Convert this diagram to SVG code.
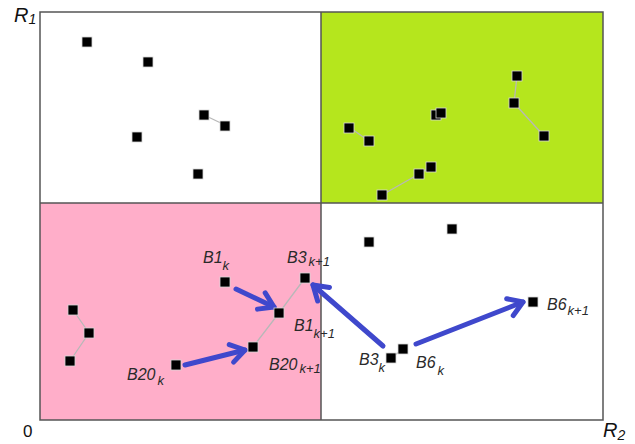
<svg xmlns="http://www.w3.org/2000/svg" width="635" height="444" viewBox="0 0 635 444">
<style>
.sq{fill:#000;stroke:#d8d8d8;stroke-width:0.8}
.lk{stroke:#b8b8b8;stroke-width:1.3;fill:none}
.ar{stroke:#3f48cc;stroke-width:5;fill:none;stroke-linecap:round}
.lb{font-family:"Liberation Sans",Arial,sans-serif;font-style:italic;fill:#2a2a2a;font-size:16px}
.sb{font-size:13px}
.ax{font-family:"Liberation Sans",Arial,sans-serif;fill:#111}
</style>
<defs>
<marker id="ah" markerUnits="userSpaceOnUse" orient="auto" refX="0" refY="0" markerWidth="30" markerHeight="30" viewBox="-20 -15 30 30" overflow="visible">
<path d="M-14,-9 L0,0 L-14,9" stroke="#3f48cc" stroke-width="5" fill="none" stroke-linecap="round" stroke-linejoin="round"/>
</marker>
</defs>
<g id="quadrants">
<rect x="40" y="12" width="281" height="191" fill="#ffffff"/>
<rect x="321" y="12" width="282" height="191" fill="#b5e61d"/>
<rect x="40" y="203" width="281" height="217" fill="#ffaec9"/>
<rect x="321" y="203" width="282" height="217" fill="#ffffff"/>
<g stroke="#555" stroke-width="1.5" fill="none">
<rect x="40" y="12" width="563" height="408"/>
<line x1="40" y1="203" x2="603" y2="203"/>
<line x1="321" y1="12" x2="321" y2="420"/>
</g>
</g>
<g id="axes">
<text class="ax" x="14" y="22" style="font-size:20px;font-style:italic">R<tspan style="font-size:14px" dy="2">1</tspan></text>
<text class="ax" x="23" y="437" style="font-size:17px">0</text>
<text class="ax" x="603" y="437" style="font-size:20px;font-style:italic">R<tspan style="font-size:14px" dy="3">2</tspan></text>
</g>
<g id="links">
<path class="lk" d="M204,115 L225,125"/>
<path class="lk" d="M349,127 L369,141"/>
<path class="lk" d="M436,115 L441,113"/>
<path class="lk" d="M382,195 L419,174 L431,167"/>
<path class="lk" d="M517,76 L514,103 L544,136"/>
<path class="lk" d="M73,310 L89,333 L70,361"/>
<path class="lk" d="M253,347 L279,313 L305,278"/>
<path class="lk" d="M391,358 L403,349"/>
</g>
<g id="connectors">
<line class="ar" x1="236" y1="289" x2="274" y2="307" marker-end="url(#ah)"/>
<line class="ar" x1="185" y1="365" x2="245" y2="350" marker-end="url(#ah)"/>
<line class="ar" x1="383" y1="346" x2="313" y2="285" marker-end="url(#ah)"/>
<line class="ar" x1="416" y1="344" x2="523" y2="302" marker-end="url(#ah)"/>
</g>
<g id="nodes">
<g id="n1"><rect class="sq" x="82" y="37" width="10" height="10"/></g>
<g id="n2"><rect class="sq" x="143" y="57" width="10" height="10"/></g>
<g id="n3"><rect class="sq" x="199" y="110" width="10" height="10"/></g>
<g id="n4"><rect class="sq" x="220" y="121" width="10" height="10"/></g>
<g id="n5"><rect class="sq" x="132" y="132" width="10" height="10"/></g>
<g id="n6"><rect class="sq" x="193" y="169" width="10" height="10"/></g>
<g id="n7"><rect class="sq" x="344" y="123" width="10" height="10"/></g>
<g id="n8"><rect class="sq" x="364" y="136" width="10" height="10"/></g>
<g id="n9"><rect class="sq" x="431" y="110" width="10" height="10"/></g>
<g id="n10"><rect class="sq" x="436" y="108" width="10" height="10"/></g>
<g id="n11"><rect class="sq" x="377" y="190" width="10" height="10"/></g>
<g id="n12"><rect class="sq" x="414" y="169" width="10" height="10"/></g>
<g id="n13"><rect class="sq" x="426" y="162" width="10" height="10"/></g>
<g id="n14"><rect class="sq" x="512" y="71" width="10" height="10"/></g>
<g id="n15"><rect class="sq" x="509" y="98" width="10" height="10"/></g>
<g id="n16"><rect class="sq" x="539" y="131" width="10" height="10"/></g>
<g id="n17"><rect class="sq" x="68" y="305" width="10" height="10"/></g>
<g id="n18"><rect class="sq" x="84" y="328" width="10" height="10"/></g>
<g id="n19"><rect class="sq" x="65" y="356" width="10" height="10"/></g>
<g id="B1k"><rect class="sq" x="220" y="277" width="10" height="10"/><text class="lb" x="203" y="263">B1<tspan class="sb" dy="7">k</tspan></text></g>
<g id="B3k1"><rect class="sq" x="300" y="273" width="10" height="10"/><text class="lb" x="287" y="263">B3<tspan class="sb" dx="2" dy="3">k+1</tspan></text></g>
<g id="B1k1"><rect class="sq" x="274" y="308" width="10" height="10"/><text class="lb" x="294" y="331">B1<tspan class="sb" dy="7">k+1</tspan></text></g>
<g id="B20k1"><rect class="sq" x="248" y="342" width="10" height="10"/><text class="lb" x="269" y="370">B20<tspan class="sb" dx="2" dy="3">k+1</tspan></text></g>
<g id="B20k"><rect class="sq" x="171" y="360" width="10" height="10"/><text class="lb" x="127" y="380">B20<tspan class="sb" dx="2" dy="5">k</tspan></text></g>
<g id="n20"><rect class="sq" x="364" y="237" width="10" height="10"/></g>
<g id="n21"><rect class="sq" x="447" y="224" width="10" height="10"/></g>
<g id="B6k1"><rect class="sq" x="528" y="297" width="10" height="10"/><text class="lb" x="547" y="310">B6<tspan class="sb" dx="1" dy="5">k+1</tspan></text></g>
<g id="B6k"><rect class="sq" x="398" y="344" width="10" height="10"/><text class="lb" x="416" y="368">B6<tspan class="sb" dx="2" dy="7">k</tspan></text></g>
<g id="B3k"><rect class="sq" x="386" y="353" width="10" height="10"/><text class="lb" x="359" y="365">B3<tspan class="sb" dy="7">k</tspan></text></g>
</g>
</svg>
